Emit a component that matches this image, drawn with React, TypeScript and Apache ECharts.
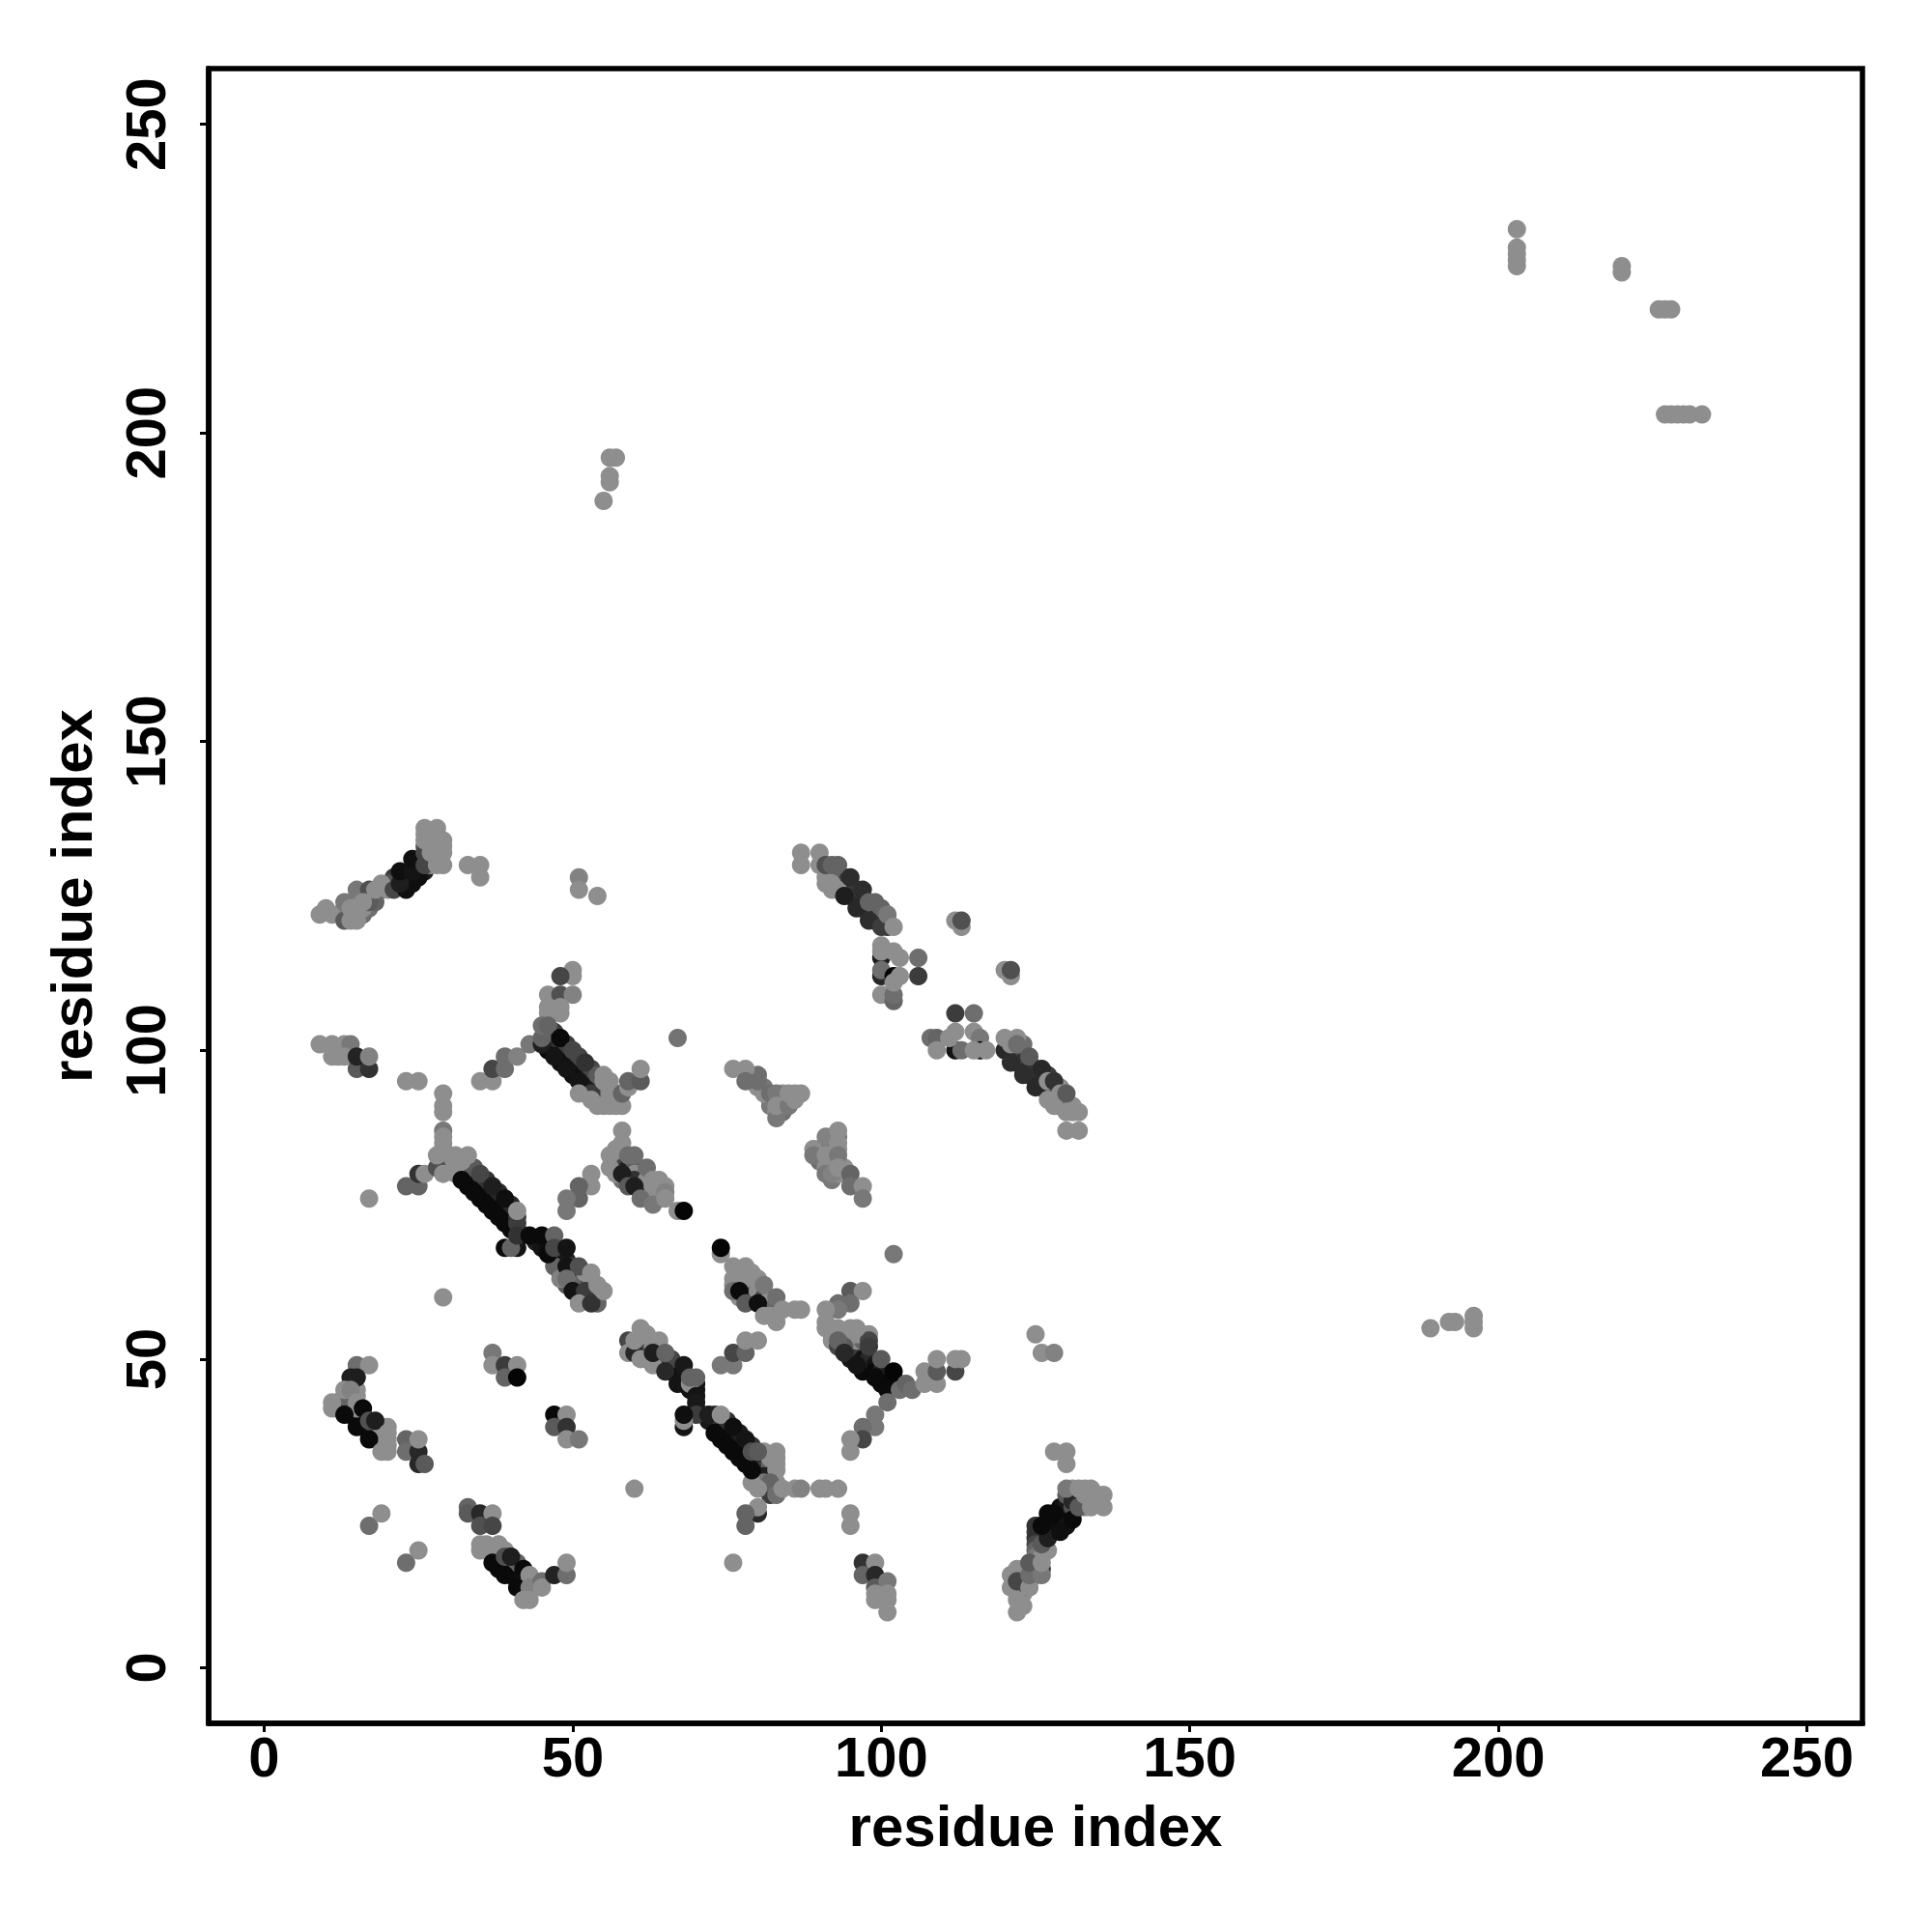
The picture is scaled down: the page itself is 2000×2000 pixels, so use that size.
import React, { useEffect, useRef } from "react";
import * as echarts from "echarts";

type P = [number, number, number];
const L = 142;

const tickValues = [0, 50, 100, 150, 200, 250];
const axisTitle = "residue index";

const fillA: P[] = [
  [23,128,15],[24,127,15],[23,127,20],[22,128,20],[25,130,15],[25,129,20],[26,129,30],[21,127,40],[21,128,60],[20,127,80],
  [14,122,100],[15,122,120],[16,122,110],[17,123,110],[14,124,L],[15,124,L],[16,125,L],[13,122,70],[13,123,120],[18,125,100],[18,124,100],
  [27,133,L],[27,131,100],[27,130,L],[26,133,90],[26,131,60],[28,132,L],[28,133,L],[28,131,L],
];
const fillC: P[] = [
  [46,102,30],[47,101,20],[48,100,20],[49,99,30],[50,98,25],[51,97,30],[52,96,35],[53,95,40],[54,94,50],[46,100,10],[48,98,15],[50,96,15],[52,94,25],[54,92,90],[55,93,110],[56,92,L],[56,91,L],
  [46,103,90],[47,103,60],[47,102,50],[49,101,60],[51,99,70],[53,97,70],[54,96,90],[56,95,L],[57,93,L],
];
const fillMain: P[] = [
  [33,80,20],[34,79,15],[35,78,10],[36,77,10],[37,76,10],[38,75,10],[39,74,10],[40,73,10],[33,78,10],[35,76,10],[37,74,10],[39,72,10],[41,71,10],[32,81,60],[33,81,80],[34,81,90],[30,81,60],[31,82,L],[30,82,L],[32,82,L],[36,79,50],[38,77,40],[40,75,40],[41,73,50],[31,80,L],
  [44,69,30],[45,68,20],[46,68,15],[47,67,15],[48,66,15],[49,66,30],[50,64,25],[48,64,20],[47,66,25],[50,65,60],[50,63,30],[51,63,50],[52,63,L],[51,62,50],[49,62,90],[52,60,60],[50,62,100],[53,61,L],[53,62,L],[52,64,L],[54,60,L],[54,59,100],[47,65,100],[48,63,130],
];
const fillD: P[] = [
  [57,81,50],[57,82,90],[58,82,L],[58,83,L],[58,81,70],[59,81,30],[59,80,30],[59,79,60],[60,81,90],[60,80,L],[61,79,L],[61,80,L],[60,79,50],[61,78,30],[62,78,70],[62,77,20],[63,77,L],[64,77,L],[65,78,L],[64,76,110],[62,79,L],[58,79,110],[63,76,L],[57,80,L],
];
const fillD2: P[] = [
  [76,63,L],[77,64,L],[76,62,L],[77,62,L],[78,62,90],[78,61,40],[79,60,30],[79,62,L],[79,61,70],[80,60,60],[80,61,L],[81,60,70],[81,59,30],[82,59,80],[81,58,L],[82,60,L],[83,58,L],[82,58,100],[83,57,L],[78,63,L],[80,63,L],[77,60,L],
];
const fillH: P[] = [
  [60,52,60],[61,53,L],[62,53,L],[62,52,50],[61,52,L],[62,51,70],[62,50,70],[63,52,L],[64,52,L],[64,50,30],[65,49,15],[66,48,10],[66,49,30],[67,48,15],[67,47,10],[68,47,10],[65,50,60],[66,50,70],[68,46,30],[69,45,20],[70,46,20],[70,45,20],[70,42,30],[68,48,20],
  [73,40,20],[74,39,10],[75,38,10],[76,37,10],[77,36,10],[78,35,10],[79,34,15],[80,33,20],[74,37,10],[76,35,10],[78,33,10],[80,31,10],[75,40,50],[77,38,30],[79,36,50],[81,34,40],[81,32,60],[82,32,70],[82,33,100],[81,31,30],[81,35,L],[82,34,L],[82,29,100],[81,29,90],[82,28,60],[83,29,L],[83,30,L],[81,30,120],[79,30,L],[72,40,25],[73,41,50],[83,34,L],[83,35,L],
];
const fillI: P[] = [
  [92,55,L],[92,54,L],[93,54,100],[94,54,L],[92,53,L],[93,52,70],[94,53,L],[95,52,90],[95,50,25],[96,51,40],[97,51,60],[97,50,20],[97,48,10],[98,49,10],[98,50,40],[99,49,20],[99,48,10],[100,47,10],[100,46,10],[101,47,15],[100,48,30],[101,46,10],[102,46,10],[102,47,10],[96,53,L],[97,53,100],[96,54,L],[98,54,L],[98,53,70],[94,52,90],
];
const fillJ: P[] = [
  [127,24,15],[127,25,10],[128,24,10],[128,23,15],[129,24,10],[130,25,20],[129,25,15],[129,26,15],[130,26,25],[130,23,20],[131,25,15],[126,22,10],[127,22,15],[126,21,30],[125,22,60],[125,23,50],[125,21,50],[125,20,70],[125,19,100],[125,18,120],[125,17,60],[126,18,L],[126,16,50],[125,16,L],[122,15,L],[123,14,L],[123,15,100],[123,16,L],[123,12,L],[124,14,L],[125,15,100],[122,13,L],[122,12,L],[123,13,70],[133,27,L],[133,26,L],[134,27,L],[135,28,L],[131,28,120],[131,29,L],[130,28,90],[131,26,80],[132,28,L],[133,29,L],
];
const fillK: P[] = [
  [38,18,30],[38,17,20],[39,17,15],[40,17,10],[40,16,10],[40,15,10],[41,15,10],[41,14,15],[42,15,15],[42,14,15],[43,14,90],[38,16,10],[37,18,80],[37,19,L],[36,19,L],[39,19,L],[42,13,L],[41,16,15],[41,17,100],[44,14,L],[44,13,L],
];
const fillF: P[] = [
  [14,44,L],[15,44,L],[13,43,L],[12,43,L],[13,42,30],[14,42,15],[14,41,10],[15,41,10],[15,40,15],[16,41,40],[16,40,15],[16,39,15],[17,39,20],[17,38,25],[18,38,30],[18,39,70],[18,37,100],[19,38,100],[19,37,L],[19,36,L],[20,36,L],[20,39,L],[19,39,L],[14,43,90],[15,42,L],[15,45,L],[12,42,80],[13,44,100],
];
const fillL: P[] = [
  [93,129,L],[92,128,100],[93,128,60],[93,127,45],[94,127,45],[94,128,60],[94,126,45],[95,126,45],[95,127,50],[95,125,45],[96,126,60],[96,125,50],[96,124,45],[97,125,50],[97,124,45],[97,123,45],[98,123,45],[98,122,45],[99,123,60],[99,122,50],[99,121,45],[100,122,50],[100,121,50],[100,123,100],[101,121,80],[101,120,60],[93,126,L],[92,129,100],[91,127,L],[92,126,L],
];
const fillN: P[] = [
  [121,100,100],[122,100,70],[122,99,50],[122,98,45],[123,99,70],[123,98,50],[123,97,45],[124,98,60],[124,97,45],[124,96,45],[125,97,50],[125,96,50],[125,95,45],[126,96,50],[126,95,45],[126,94,40],[127,96,60],[127,94,40],[127,93,40],[128,94,60],[128,93,50],[129,92,50],[129,91,60],[130,92,100],[131,91,L],[129,94,L],[123,101,110],[122,102,L],
];
const fillO: P[] = [
  [80,96,110],[81,94,120],[82,92,L],[82,91,120],[83,92,120],[84,93,L],[84,92,L],[84,91,L],[84,90,110],[85,92,L],[86,93,L],[81,93,L],[80,94,L],[83,90,L],[79,95,L],
  [90,84,120],[90,83,L],[90,82,110],[91,85,L],[91,84,110],[91,82,L],[91,81,L],[92,86,L],[92,85,L],[92,84,120],[92,83,L],[92,82,120],[92,81,L],[93,82,110],[93,84,L],[93,86,120],[91,80,120],[92,79,120],[93,80,L],[94,81,L],[94,80,L],[89,84,L],
];

const bandTopLeft: P[] = [
  [9,122,L],[10,123,L],[11,122,L],[13,124,120],[13,121,90],[14,121,L],[15,121,L],[15,126,120],[16,123,L],[17,126,80],[17,124,90],[16,124,L],[15,123,L],[14,123,L],[19,127,L],[18,126,L],[20,126,L],[21,126,70],
  [23,126,15],[22,127,30],[22,129,15],[25,128,15],[24,129,20],[24,131,15],[26,130,70],[26,132,70],[26,134,L],[26,135,L],[26,136,L],[27,134,L],[27,132,L],[28,136,L],[28,130,L],[28,134,L],[29,134,L],[29,133,L],[29,132,L],[29,130,L],
  [33,130,L],[35,130,L],[35,128,L],[51,128,130],[51,126,L],[54,125,L],
];
const bandRow100: P[] = [
  [9,101,L],[11,101,L],[13,101,L],[14,101,120],[11,99,L],[12,99,L],[13,99,L],[15,97,90],[17,97,50],[15,99,35],[17,99,130],
  [23,95,L],[25,95,L],[29,93,L],[29,91,L],[29,90,L],[29,87,120],[29,86,L],[29,85,L],
  [35,95,L],[37,95,L],[37,97,70],[39,97,110],[39,99,110],[41,99,130],[43,101,120],
];
const bandC: P[] = [
  [50,113,L],[50,112,L],[48,112,70],[46,109,L],[48,109,80],[50,109,130],[46,107,L],[48,107,L],[48,106,L],[46,106,L],
  [45,101,30],[45,102,100],[45,104,110],[46,104,100],[47,99,20],[49,97,20],[51,95,20],[53,93,60],[48,102,10],[50,100,70],[52,98,50],[51,93,L],[53,92,L],[55,96,L],[55,95,L],[54,91,L],[55,91,L],[57,91,L],[58,91,L],[56,93,L],[58,93,100],[59,94,L],[59,95,100],[61,95,90],[61,97,L],[67,102,115],
];
const bandD: P[] = [
  [58,87,L],[58,85,L],[57,84,L],[56,83,L],[56,81,L],[58,80,30],[59,83,110],[60,83,110],[59,78,90],[60,78,30],[61,76,110],[62,81,110],[63,75,120],[63,79,L],[64,79,L],[65,77,130],[65,76,L],[67,74,L],[68,74,5],
  [74,67,L],[74,68,5],[53,80,L],[53,78,L],[51,78,100],[51,76,100],[49,76,120],[49,74,120],
];
const bandMain: P[] = [
  [17,76,L],[23,78,100],[25,78,100],[25,80,50],[26,80,L],[28,81,80],[29,80,L],[28,83,L],[29,84,L],[31,83,L],[33,83,L],
  [32,79,10],[34,77,10],[36,75,10],[38,73,10],[40,71,10],[35,80,70],[37,78,30],[39,76,15],[41,72,60],[41,74,L],
  [39,68,10],[41,68,20],[40,68,100],[41,70,50],[43,70,10],[45,70,10],[47,70,100],[46,67,10],[47,68,70],[49,68,20],[49,65,20],[51,65,80],[49,63,110],[50,61,20],[52,61,60],[51,59,L],[53,59,50],[53,64,L],[54,62,L],[55,61,L],[29,60,L],
];
const bandF: P[] = [
  [15,49,110],[17,49,L],[14,47,30],[15,47,30],[13,45,L],[14,45,130],[11,43,L],[11,42,L],[15,43,L],
  [13,41,10],[15,39,10],[17,37,10],[16,42,10],[17,40,80],[18,40,30],[19,35,L],[20,38,L],[20,37,L],[20,35,L],
  [23,37,100],[23,35,110],[25,35,40],[25,33,40],[25,37,L],[26,33,90],
];
const bandG: P[] = [
  [37,51,120],[37,49,L],[39,49,60],[41,49,L],[39,47,100],[41,47,5],[47,41,10],[49,41,L],[47,39,90],[49,39,50],[49,37,L],[51,37,120],
];
const bandD2: P[] = [
  [76,65,L],[78,65,L],[76,61,110],[79,64,L],[77,61,10],[78,59,90],[80,59,15],[81,62,120],[83,60,110],[82,57,L],[81,57,L],[83,56,L],[84,58,L],[86,58,L],[87,58,L],
  [74,49,120],[76,49,120],[76,51,70],[78,51,100],[78,53,L],[80,53,L],
];
const bandH: P[] = [
  [59,53,70],[59,51,L],[60,51,40],[60,53,L],[61,55,L],[62,54,L],[64,53,L],[61,50,L],[63,49,L],[63,51,30],[65,51,100],[65,48,40],[67,46,20],[68,49,25],[69,46,L],[69,47,100],[70,44,20],[70,43,25],[70,41,60],[70,47,100],
  [68,39,20],[68,40,L],[68,41,15],[72,41,30],[74,41,L],[73,38,10],[75,36,10],[77,34,10],[79,32,10],[76,39,15],[78,37,20],[79,35,80],[80,35,90],
  [83,33,L],[83,32,L],[82,30,100],[83,28,110],[80,29,L],[80,25,40],[80,26,L],[78,25,100],[78,23,100],
  [84,29,L],[86,29,L],[87,29,130],[90,29,L],[91,29,L],[93,29,L],[95,25,L],[95,23,L],[60,29,L],[76,17,L],
  [97,17,50],[99,17,L],[97,15,100],[99,15,40],[99,13,90],[101,14,120],[99,12,L],[101,12,L],[99,11,L],[101,11,L],[101,9,L],
];
const bandI: P[] = [
  [95,61,90],[97,61,L],[95,59,110],[93,59,110],[93,58,120],[91,58,L],[91,56,L],[91,55,L],[93,55,L],[95,55,L],[96,55,L],
  [93,53,100],[94,51,40],[96,49,20],[99,47,10],[98,52,60],[100,50,90],[102,48,5],[101,45,10],[103,45,110],[104,46,100],[105,45,110],[107,48,L],[107,46,L],[109,46,L],[109,48,90],[109,50,L],[112,48,70],[112,50,L],[113,50,L],
  [101,43,110],[99,41,120],[99,39,120],[97,39,110],[97,37,70],[95,37,L],[95,35,L],[102,67,120],
  [125,54,L],[126,51,L],[128,51,130],[128,35,L],[130,35,L],[130,33,L],
];
const bandJ: P[] = [
  [122,9,L],[122,11,L],[123,10,L],[121,15,L],[121,13,L],[122,16,L],[122,14,70],[124,13,L],[124,15,110],[124,17,90],[126,15,120],[126,17,L],[127,19,L],[126,20,90],
  [127,21,30],[126,23,10],[129,22,15],[128,25,10],[131,24,10],[131,27,40],[132,26,90],
  [130,29,120],[132,29,L],[133,28,L],[134,29,L],[134,26,L],[136,28,L],[136,26,L],[135,27,L],
];
const bandK: P[] = [
  [33,26,100],[33,25,90],[35,25,40],[37,25,L],[35,23,80],[37,23,70],[35,20,L],[35,19,L],[36,20,L],[38,20,L],
  [37,17,10],[39,18,80],[40,18,30],[39,15,10],[41,13,10],[42,16,10],[43,15,L],[43,13,130],[42,11,L],[43,11,L],[45,14,110],[45,13,L],[47,15,35],[49,15,110],[49,17,L],
  [17,23,110],[19,25,L],[23,17,110],[25,19,L],
];
const bandL: P[] = [
  [87,132,L],[87,130,L],[90,132,L],[90,130,L],[91,128,L],[91,130,80],[92,127,L],[92,130,100],[93,130,100],
  [94,125,30],[95,128,45],[96,123,40],[97,126,45],[98,121,45],[98,124,100],[99,124,100],[100,120,60],[101,122,120],[102,120,L],
];
const bandM: P[] = [
  [100,115,30],[100,117,L],[100,116,L],[102,116,L],[103,115,L],[106,115,110],[100,112,40],[100,113,110],[102,112,5],[103,112,L],[106,112,60],[100,109,L],[102,108,100],[102,109,110],[102,111,L],
  [112,121,L],[113,120,L],[113,121,80],[120,113,L],[121,112,L],[121,113,80],
  [112,106,60],[115,106,110],[112,100,20],[113,100,110],[112,103,L],[115,103,L],[116,102,120],[108,102,110],[109,102,100],[109,100,L],[111,102,L],[116,100,20],[115,100,L],[117,100,L],
];
const bandN: P[] = [
  [120,100,40],[121,98,45],[123,96,45],[125,94,40],[120,102,L],[121,101,L],[122,101,110],[124,99,90],[126,97,40],[127,92,L],[128,91,L],[127,95,L],[128,95,50],[129,93,L],[130,93,90],[130,90,L],[131,90,L],[132,90,L],[130,87,L],[132,87,L],
];
const bandO: P[] = [
  [76,97,L],[78,97,L],[78,95,110],[80,95,110],[82,93,110],[83,93,120],[83,89,120],[83,91,L],[85,91,120],[85,93,L],[87,93,L],[86,92,L],
  [89,83,120],[91,86,130],[91,83,L],[92,80,130],[93,87,L],[93,85,L],[93,83,120],[93,81,L],[95,80,100],[95,78,110],[97,78,L],[97,76,120],
];
const bandFar: P[] = [
  [55,189,L],[56,192,L],[56,193,L],[56,196,L],[57,196,L],
  [203,233,L],[203,230,L],[203,229,L],[203,228,L],[203,227,L],[220,227,L],[220,226,L],[226,220,L],[227,220,L],[228,220,L],
  [227,203,L],[228,203,L],[229,203,L],[230,203,L],[231,203,L],[233,203,L],
  [189,55,L],[192,56,L],[193,56,L],[196,55,L],[196,56,L],[196,57,L],
];

const allBands: P[][] = [
  fillA, fillC, fillMain, fillD, fillD2, fillH, fillI, fillJ, fillK, fillF, fillL, fillN, fillO,
  bandTopLeft, bandRow100, bandC, bandD, bandMain, bandF, bandG, bandD2, bandH, bandI, bandJ, bandK, bandL, bandM, bandN, bandO, bandFar,
];

export default function App() {
  const ref = useRef<HTMLDivElement>(null);
  useEffect(() => {
    const chart = echarts.init(ref.current!, null, { renderer: "svg" });
    const font = "'Liberation Sans', Arial, sans-serif";
    const axisCommon = {
      type: "value" as const,
      min: -9,
      max: 259,
      nameLocation: "middle" as const,
      name: axisTitle,
      nameTextStyle: { fontFamily: font, fontWeight: "bold" as const, fontSize: 60, color: "#000" },
      splitLine: { show: false },
      axisLine: { show: true, onZero: false, lineStyle: { color: "#000", width: 5.5 } },
      axisTick: { show: true, length: 9, customValues: tickValues, lineStyle: { color: "#000", width: 3 } },
    };
    chart.setOption({
      animation: false,
      backgroundColor: "#fff",
      grid: { left: 216, right: 72, top: 71, bottom: 216, show: true, borderColor: "#000", borderWidth: 5.5, backgroundColor: "transparent" },
      xAxis: {
        ...axisCommon,
        position: "bottom",
        nameGap: 76,
        axisLabel: { customValues: tickValues, fontFamily: font, fontWeight: "bold", fontSize: 58, color: "#000", margin: 5 },
      },
      yAxis: {
        ...axisCommon,
        position: "left",
        nameGap: 112,
        axisLabel: { customValues: tickValues, rotate: 90, fontFamily: font, fontWeight: "bold", fontSize: 58, color: "#000", margin: 37 },
      },
      series: [
        {
          type: "scatter",
          symbol: "circle",
          symbolSize: 19,
          silent: true,
          itemStyle: { opacity: 1 },
          data: allBands.flat().map(([x, y, g]) => ({
            value: [x, y],
            itemStyle: { color: `rgb(${g},${g},${g})`, opacity: 1 },
          })),
        },
      ],
    });
    return () => chart.dispose();
  }, []);
  return <div ref={ref} style={{ position: "absolute", left: 0, top: 0, width: 2000, height: 2000 }} />;
}
